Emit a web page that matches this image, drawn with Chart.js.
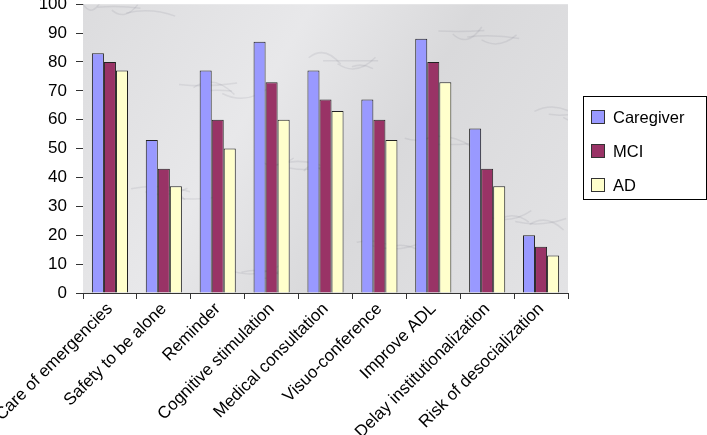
<!DOCTYPE html>
<html>
<head>
<meta charset="utf-8">
<script src="https://cdn.jsdelivr.net/npm/chart.js@4"></script>
<style>
  html, body { margin: 0; padding: 0; background: #fff; overflow: hidden; }
  #wrap { position: absolute; left: 0; top: -15px; width: 707px; height: 450px; }
</style>
</head>
<body>
<div id="wrap"><canvas id="chart"></canvas></div>
<script>
const categories = [
    "Care of emergencies", "Safety to be alone", "Reminder", "Cognitive stimulation",
    "Medical consultation", "Visuo-conference", "Improve ADL",
    "Delay institutionalization", "Risk of desocialization"
];
const caregiver = [83, 53, 77, 87, 77, 67, 88, 57, 20];
const mci = [80, 43, 60, 73, 67, 60, 80, 43, 16];
const ad = [77, 37, 50, 60, 63, 53, 73, 37, 13];
const yTicks = [0, 10, 20, 30, 40, 50, 60, 70, 80, 90, 100];

const FONT = '"Liberation Sans", Arial, sans-serif';

// grey "marble" backdrop behind the bars
const marble = {
    id: 'marble',
    beforeDatasetsDraw(chart) {
        const { ctx, chartArea: a } = chart;
        const w = a.right - a.left, h = a.bottom - a.top;
        ctx.save();
        const g = ctx.createLinearGradient(a.left, a.top, a.right, a.bottom);
        g.addColorStop(0, '#dcdcde');
        g.addColorStop(0.35, '#e8e8ea');
        g.addColorStop(0.6, '#d9d9db');
        g.addColorStop(1, '#e3e3e5');
        ctx.fillStyle = g;
        ctx.fillRect(a.left, a.top, w, h);
        // soft veins
        ctx.beginPath();
        ctx.rect(a.left, a.top, w, h);
        ctx.clip();
        ctx.strokeStyle = 'rgba(110,110,120,0.12)';
        ctx.lineWidth = 1.5;
        for (let i = 0; i < 40; i++) {
            const x0 = a.left + ((i * 37) % 101) / 101 * w;
            const y0 = a.top + ((i * 53) % 97) / 97 * h;
            const dx = 20 + (i * 13) % 40, dy = ((i * 7) % 30) - 15;
            ctx.beginPath();
            ctx.moveTo(x0, y0);
            ctx.quadraticCurveTo(x0 + dx / 2, y0 - dy, x0 + dx, y0 + dy / 2);
            ctx.stroke();
        }
        ctx.restore();
    }
};

// boxed legend on the right
const boxLegend = {
    id: 'boxLegend',
    afterDraw(chart) {
        const { ctx } = chart;
        const x = 583, y = 111, w = 123, h = 103;
        ctx.save();
        ctx.fillStyle = '#fff';
        ctx.strokeStyle = '#000';
        ctx.lineWidth = 1;
        ctx.fillRect(x, y, w, h);
        ctx.strokeRect(x + 0.5, y + 0.5, w, h);
        ctx.font = '16.5px ' + FONT;
        ctx.textBaseline = 'middle';
        chart.data.datasets.forEach((ds, i) => {
            const cy = y + 21 + i * 34;
            ctx.fillStyle = ds.backgroundColor;
            ctx.fillRect(591, cy - 7, 14, 14);
            ctx.strokeStyle = '#333';
            ctx.strokeRect(591.5, cy - 6.5, 13, 13);
            ctx.fillStyle = '#000';
            ctx.fillText(ds.label, 613, cy + 1);
        });
        ctx.restore();
    }
};

new Chart(document.getElementById('chart'), {
    type: 'bar',
    data: {
        labels: categories,
        datasets: [
            { label: 'Caregiver', data: caregiver, backgroundColor: '#9999ff', borderColor: '#222', borderWidth: 1 },
            { label: 'MCI', data: mci, backgroundColor: '#993366', borderColor: '#222', borderWidth: 1 },
            { label: 'AD', data: ad, backgroundColor: '#ffffcc', borderColor: '#222', borderWidth: 1 }
        ]
    },
    options: {
        responsive: true,
        maintainAspectRatio: false,
        animation: false,
        devicePixelRatio: 1,
        layout: { padding: { left: 0, right: 139, top: 0, bottom: 0 } },
        datasets: { bar: { barPercentage: 1, categoryPercentage: 0.67 } },
        plugins: {
            legend: { display: false },
            tooltip: { enabled: false }
        },
        scales: {
            x: {
                afterFit(scale) {
                    scale.height = 142;
                    scale.paddingLeft = 0;
                    scale.paddingRight = 0;
                },
                grid: { display: true, drawOnChartArea: false, tickLength: 6, color: '#333', offset: true },
                border: { color: '#333' },
                ticks: {
                    color: '#000',
                    font: { family: FONT, size: 17 },
                    minRotation: 45,
                    maxRotation: 45,
                    autoSkip: false,
                    padding: 0
                }
            },
            y: {
                min: 0,
                max: 100,
                afterBuildTicks(scale) { scale.ticks = yTicks.map(v => ({ value: v })); },
                afterFit(scale) { scale.width = 83; },
                grid: { display: true, drawOnChartArea: false, tickLength: 7, color: '#333' },
                border: { color: '#333' },
                ticks: {
                    color: '#000',
                    font: { family: FONT, size: 17 },
                    padding: 9
                }
            }
        }
    },
    plugins: [marble, boxLegend]
});
</script>
</body>
</html>
